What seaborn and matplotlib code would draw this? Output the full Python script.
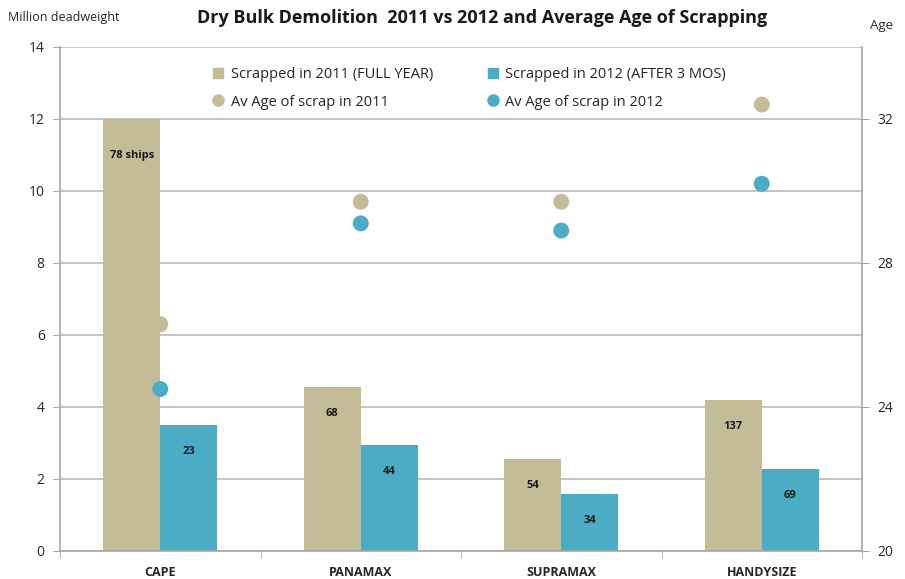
# Dry bulk demolition chart: scrapped dwt (bars) + average scrap age (dots)
import matplotlib
matplotlib.use("Agg")
import matplotlib.pyplot as plt
from matplotlib.patches import Patch
from matplotlib.lines import Line2D
import pandas as pd
import seaborn as sns

# Data
vessel_types = ["CAPE", "PANAMAX", "SUPRAMAX", "HANDYSIZE"]
dwt_2011 = [12.0, 4.55, 2.55, 4.2]
dwt_2012 = [3.5, 2.95, 1.57, 2.28]
ships_2011 = ["78 ships", "68", "54", "137"]
ships_2012 = ["23", "44", "34", "69"]
age_2011 = [26.3, 29.7, 29.7, 32.4]
age_2012 = [24.5, 29.1, 28.9, 30.2]
bar_series = ["Scrapped in 2011 (FULL YEAR)", "Scrapped in 2012 (AFTER 3 MOS)"]
age_series = ["Av Age of scrap in 2011", "Av Age of scrap in 2012"]

tan = "#C4BC96"
blue = "#4BACC6"
grid_col = "#BFBFBF"

bars = pd.DataFrame({
    "type": vessel_types * 2,
    "series": [bar_series[0]] * 4 + [bar_series[1]] * 4,
    "dwt": dwt_2011 + dwt_2012,
})
ages = pd.DataFrame({
    "type": vessel_types * 2,
    "series": [age_series[0]] * 4 + [age_series[1]] * 4,
    "age": age_2011 + age_2012,
})

sns.set_style("white")
plt.rcParams["font.family"] = ["Open Sans", "DejaVu Sans"]

fig = plt.figure(figsize=(9.05, 5.79), dpi=100)
ax = fig.add_axes([60 / 905, 1 - 551 / 579, (862 - 60) / 905, (551 - 47) / 579])

sns.barplot(data=bars, x="type", y="dwt", hue="series", palette=[tan, blue],
            width=0.57, saturation=1, errorbar=None, legend=False, linewidth=0, ax=ax)

# in-bar ship counts
for cont, labels in zip(ax.containers, [ships_2011, ships_2012]):
    for rect, lab in zip(cont, labels):
        off = -26 if lab.endswith("ships") else -19
        ax.annotate(lab, (rect.get_x() + rect.get_width() / 2, rect.get_height()),
                    xytext=(0, off), textcoords="offset points",
                    ha="center", va="center", fontsize=8, fontweight="bold",
                    color="#1a1a1a")

ax.set_ylim(0, 14)
ax.set_yticks(range(0, 15, 2))
ax.set_xlim(-0.5, 3.5)
ax.yaxis.grid(True, color=grid_col, lw=1.3)
ax.set_axisbelow(True)
ax.set_xlabel("")
ax.set_ylabel("")

ax2 = ax.twinx()
sns.stripplot(data=ages, x="type", y="age", hue="series", palette=[tan, blue],
              jitter=False, dodge=False, size=11.5, linewidth=0, legend=False, ax=ax2)
ax2.set_ylim(20, 34)
ax2.set_yticks([20, 24, 28, 32])
ax2.set_xlim(-0.5, 3.5)
ax2.set_xlabel("")
ax2.set_ylabel("")

# spines and ticks
for a in (ax, ax2):
    for s in a.spines.values():
        s.set_visible(False)
ax.spines["left"].set_visible(True)
ax.spines["bottom"].set_visible(True)
ax2.spines["right"].set_visible(True)
for s in (ax.spines["left"], ax.spines["bottom"], ax2.spines["right"]):
    s.set_color("#A6A6A6")
    s.set_linewidth(1.2)

ax.tick_params(axis="y", left=True, length=5, color="#A6A6A6", labelsize=10,
               labelcolor="#262626", pad=6)
ax2.tick_params(axis="y", right=True, length=5, color="#A6A6A6", labelsize=10,
                labelcolor="#262626", pad=6)
ax.set_xticks(range(4))
ax.set_xticklabels(vessel_types, fontweight="bold", fontsize=9, color="#262626")
ax.set_xticks([-0.5, 0.5, 1.5, 2.5, 3.5], minor=True)
ax.tick_params(axis="x", which="major", length=0, pad=11)
ax.tick_params(axis="x", which="minor", bottom=True, length=5, color="#A6A6A6")

# legend
handles = [
    Patch(color=tan, label=bar_series[0]),
    Line2D([], [], marker="o", ls="", color=tan, markersize=8, label=age_series[0]),
    Patch(color=blue, label=bar_series[1]),
    Line2D([], [], marker="o", ls="", color=blue, markersize=8, label=age_series[1]),
]
fig.legend(handles=handles, ncol=2, loc="upper left", bbox_to_anchor=(200 / 905, 1 - 54 / 579),
           frameon=False, fontsize=10.5, handlelength=0.7, handleheight=0.7,
           handletextpad=0.5, columnspacing=3.75, labelspacing=0.85)

fig.text(482 / 905, 1 - 18 / 579, "Dry Bulk Demolition  2011 vs 2012 and Average Age of Scrapping",
         ha="center", va="center", fontsize=13, fontweight="bold", color="#1a1a1a")
fig.text(8 / 905, 1 - 18 / 579, "Million deadweight", ha="left", va="center",
         fontsize=9, color="#262626")
fig.text(882 / 905, 1 - 26 / 579, "Age", ha="center", va="center",
         fontsize=9.5, color="#262626")

fig.savefig("out.png", dpi=100)
